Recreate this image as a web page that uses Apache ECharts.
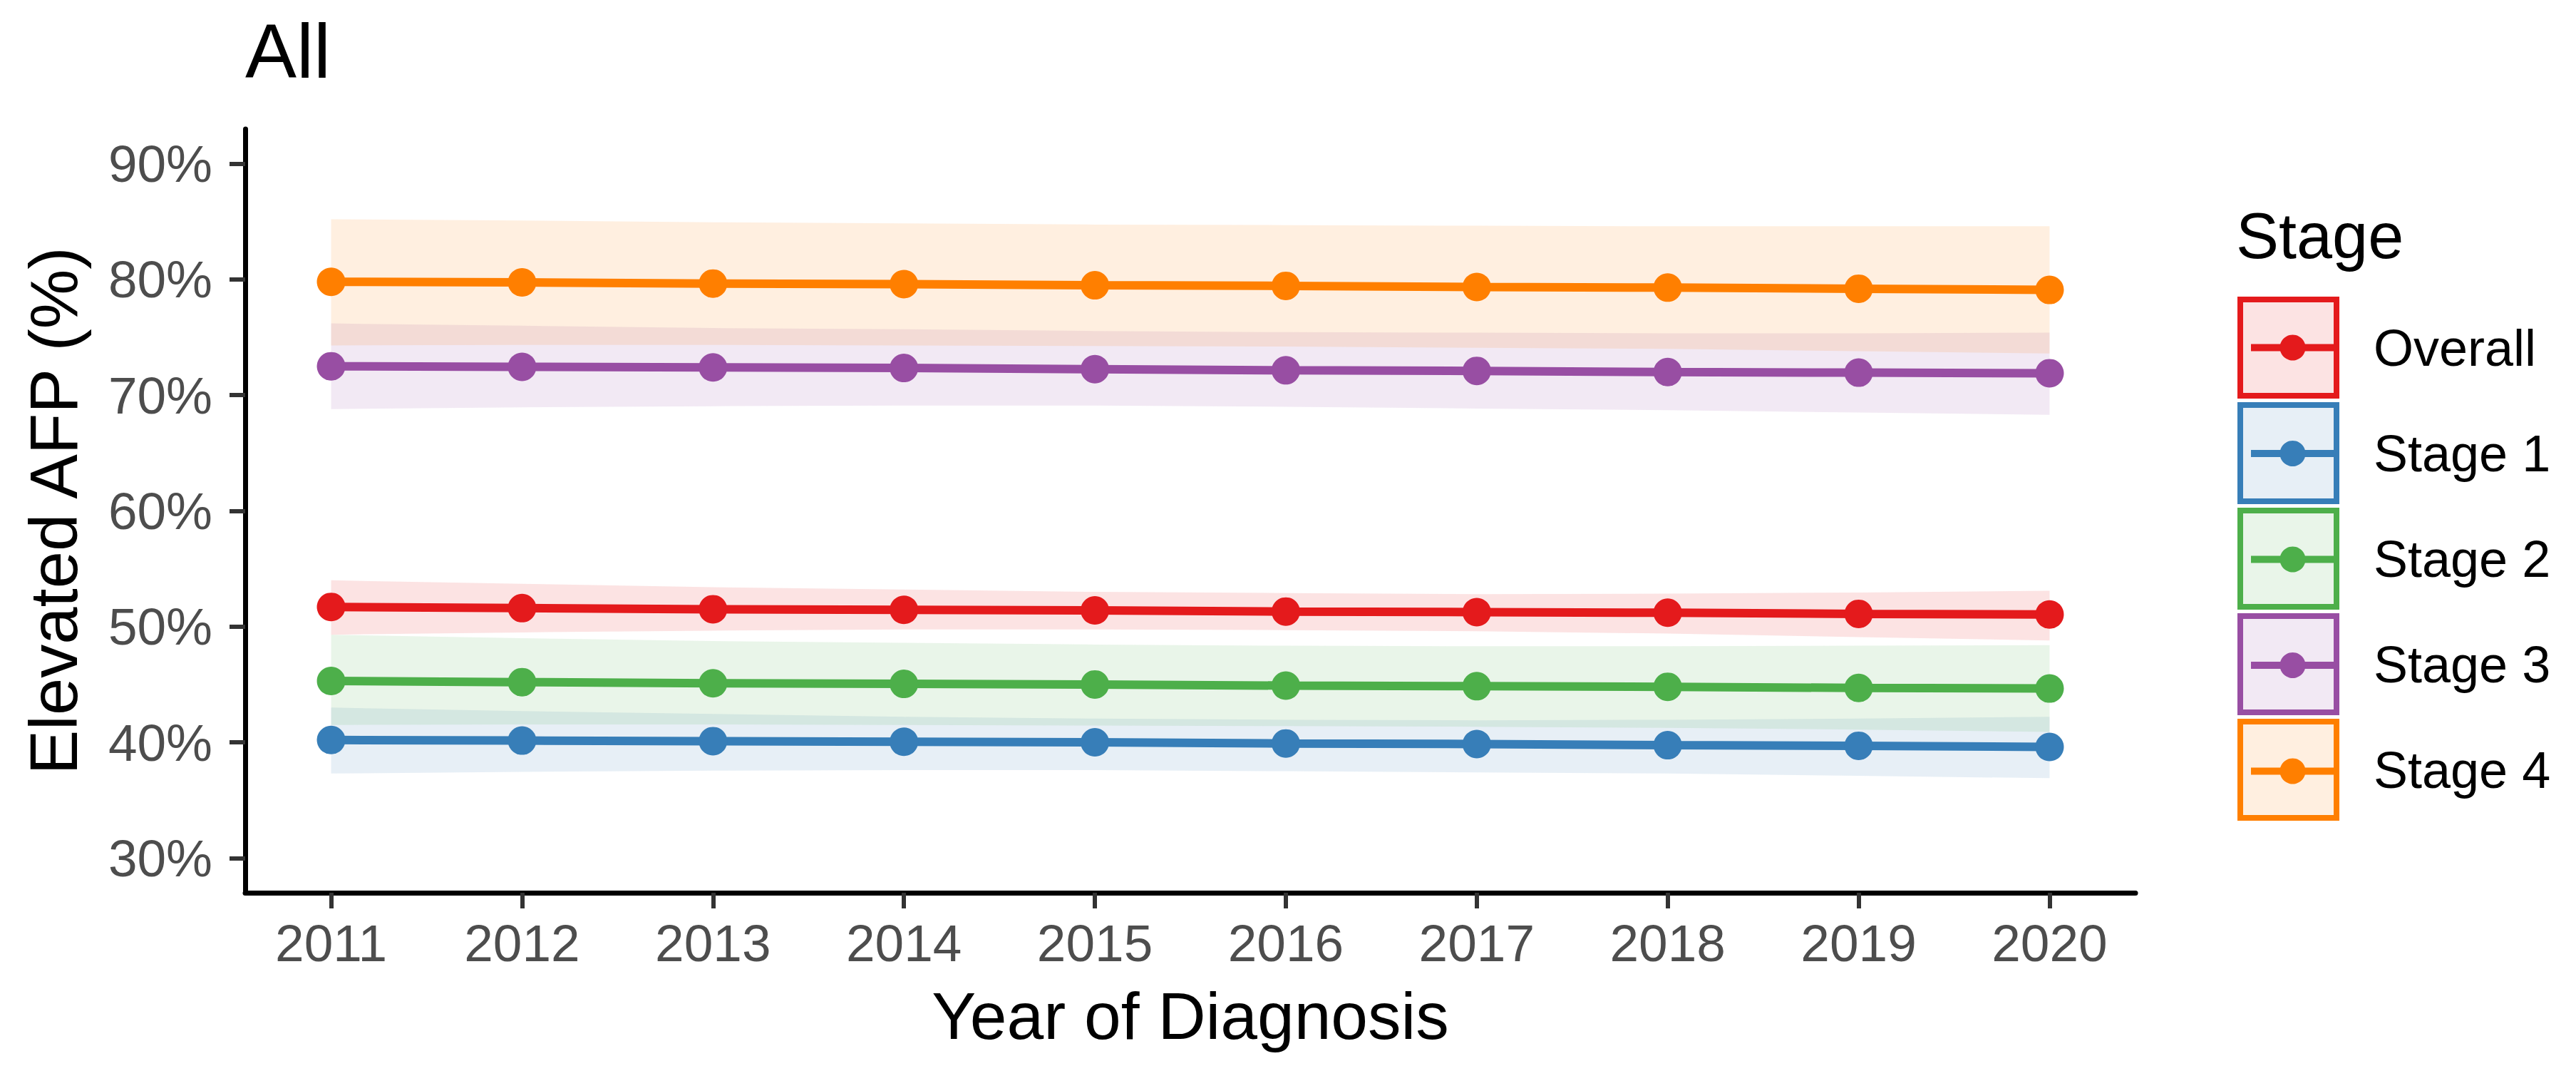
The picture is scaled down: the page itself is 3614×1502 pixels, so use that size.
<!DOCTYPE html>
<html>
<head>
<meta charset="utf-8">
<script src="https://cdn.jsdelivr.net/npm/echarts@6/dist/echarts.min.js"></script>
<style>
html,body{margin:0;padding:0;background:#ffffff;}
#chart{width:3614px;height:1502px;}
</style>
</head>
<body>
<div id="chart"></div>
<script>
// ---- data ----
const years = [2011, 2012, 2013, 2014, 2015, 2016, 2017, 2018, 2019, 2020];
const stageNames = ['Overall', 'Stage 1', 'Stage 2', 'Stage 3', 'Stage 4'];

const overallFit = [51.7, 51.6, 51.5, 51.45, 51.4, 51.3, 51.25, 51.2, 51.1, 51.05];
const overallLo  = [49.3, 49.5, 49.65, 49.75, 49.75, 49.7, 49.6, 49.4, 49.1, 48.8];
const overallHi  = [54.0, 53.7, 53.4, 53.2, 53.0, 52.9, 52.8, 52.85, 52.95, 53.1];

const stage1Fit = [40.2, 40.15, 40.1, 40.05, 40.0, 39.9, 39.85, 39.75, 39.7, 39.6];
const stage1Lo  = [37.3, 37.45, 37.55, 37.6, 37.6, 37.5, 37.4, 37.3, 37.1, 36.9];
const stage1Hi  = [43.0, 42.7, 42.45, 42.2, 42.05, 41.95, 41.9, 41.95, 42.05, 42.2];

const stage2Fit = [45.3, 45.2, 45.1, 45.05, 45.0, 44.9, 44.85, 44.8, 44.7, 44.65];
const stage2Lo  = [41.5, 41.55, 41.55, 41.5, 41.45, 41.4, 41.35, 41.25, 41.1, 40.9];
const stage2Hi  = [49.3, 49.0, 48.75, 48.6, 48.45, 48.35, 48.3, 48.3, 48.35, 48.4];

const stage3Fit = [72.5, 72.45, 72.4, 72.35, 72.25, 72.15, 72.1, 72.0, 71.95, 71.9];
const stage3Lo  = [68.8, 68.95, 69.05, 69.1, 69.1, 69.0, 68.85, 68.7, 68.5, 68.3];
const stage3Hi  = [76.2, 76.0, 75.8, 75.7, 75.55, 75.45, 75.4, 75.35, 75.35, 75.4];

const stage4Fit = [79.8, 79.75, 79.65, 79.6, 79.5, 79.45, 79.35, 79.3, 79.2, 79.1];
const stage4Lo  = [74.3, 74.35, 74.35, 74.3, 74.25, 74.2, 74.1, 74.0, 73.8, 73.6];
const stage4Hi  = [85.2, 85.1, 84.95, 84.85, 84.75, 84.7, 84.65, 84.6, 84.6, 84.6];

const yTickValues = [30, 40, 50, 60, 70, 80, 90];
const xTickValues = years;

// ---- styling ----
const colors = ['#E41A1C', '#377EB8', '#4DAF4A', '#984EA3', '#FF7F00'];
const fillAlpha = 0.12;
const FONT = '"Liberation Sans", Arial, Helvetica, sans-serif';

function rgba(hex, a) {
  const r = parseInt(hex.slice(1, 3), 16), g = parseInt(hex.slice(3, 5), 16), b = parseInt(hex.slice(5, 7), 16);
  return 'rgba(' + r + ',' + g + ',' + b + ',' + a + ')';
}

const fits = [overallFit, stage1Fit, stage2Fit, stage3Fit, stage4Fit];
const los = [overallLo, stage1Lo, stage2Lo, stage3Lo, stage4Lo];
const his = [overallHi, stage1Hi, stage2Hi, stage3Hi, stage4Hi];

const series = [];
// fitted lines with points
stageNames.forEach(function (name, k) {
  series.push({
    name: name,
    type: 'line',
    data: years.map(function (y, i) { return [y, fits[k][i]]; }),
    symbol: 'circle',
    symbolSize: 40,
    showSymbol: true,
    lineStyle: { width: 12, color: colors[k] },
    itemStyle: { color: colors[k] },
    z: 3,
    silent: true
  });
});
// confidence ribbons
stageNames.forEach(function (name, k) {
  series.push({
    name: name,
    type: 'custom',
    data: years.map(function (y, i) { return [y, los[k][i], his[k][i]]; }),
    encode: { x: 0, y: [1, 2] },
    z: 1,
    silent: true,
    renderItem: function (params, api) {
      if (params.dataIndex !== 0) return null;
      const pts = [];
      for (let i = 0; i < years.length; i++) pts.push(api.coord([years[i], his[k][i]]));
      for (let i = years.length - 1; i >= 0; i--) pts.push(api.coord([years[i], los[k][i]]));
      return { type: 'polygon', shape: { points: pts }, style: { fill: rgba(colors[k], fillAlpha), stroke: null } };
    }
  });
});

const chart = echarts.init(document.getElementById('chart'), null, { renderer: 'svg' });
chart.setOption({
  animation: false,
  backgroundColor: '#ffffff',
  title: [
    { text: 'All', left: 344, top: 17, padding: 0,
      textStyle: { fontFamily: FONT, fontSize: 108, fontWeight: 'normal', color: '#000000' } },
    { text: 'Stage', left: 3137, top: 286, padding: 0,
      textStyle: { fontFamily: FONT, fontSize: 90, fontWeight: 'normal', color: '#000000' } }
  ],
  grid: { left: 344, right: 618, top: 181, bottom: 250, containLabel: false },
  xAxis: {
    type: 'value',
    min: 2010.55,
    max: 2020.45,
    name: 'Year of Diagnosis',
    nameLocation: 'middle',
    nameGap: 126,
    nameTextStyle: { fontFamily: FONT, fontSize: 93, color: '#000000' },
    axisLine: { show: true, onZero: false, lineStyle: { color: '#000000', width: 7 } },
    axisTick: { show: true, length: 22, customValues: xTickValues, lineStyle: { color: '#333333', width: 6 } },
    axisLabel: { customValues: xTickValues, margin: 34, fontFamily: FONT, fontSize: 73, color: '#4D4D4D',
      formatter: function (v) { return String(v); } },
    splitLine: { show: false }
  },
  yAxis: {
    type: 'value',
    min: 27,
    max: 93,
    name: 'Elevated AFP (%)',
    nameLocation: 'middle',
    nameGap: 222,
    nameTextStyle: { fontFamily: FONT, fontSize: 94, color: '#000000' },
    axisLine: { show: true, onZero: false, lineStyle: { color: '#000000', width: 7 } },
    axisTick: { show: true, length: 22, customValues: yTickValues, lineStyle: { color: '#333333', width: 6 } },
    axisLabel: { customValues: yTickValues, margin: 46, fontFamily: FONT, fontSize: 73, color: '#4D4D4D',
      formatter: function (v) { return v + '%'; } },
    splitLine: { show: false }
  },
  legend: [
    {
      orient: 'vertical',
      left: 3139,
      top: 416,
      padding: 0,
      icon: 'rect',
      itemWidth: 135,
      itemHeight: 135,
      itemGap: 5,
      selectedMode: false,
      textStyle: { fontFamily: FONT, fontSize: 72, color: '#000000', padding: [0, 0, 0, 47] },
      data: stageNames.map(function (name, k) {
        return { name: name, itemStyle: { color: rgba(colors[k], fillAlpha), borderColor: colors[k], borderWidth: 8 } };
      })
    },
    {
      orient: 'vertical',
      left: 3153,
      top: 465,
      padding: 0,
      itemWidth: 117,
      itemHeight: 45,
      itemGap: 108,
      selectedMode: false,
      lineStyle: { width: 10 },
      formatter: function () { return ''; },
      textStyle: { fontSize: 1, color: 'rgba(0,0,0,0)' },
      data: stageNames
    }
  ],
  series: series
});
</script>
</body>
</html>
